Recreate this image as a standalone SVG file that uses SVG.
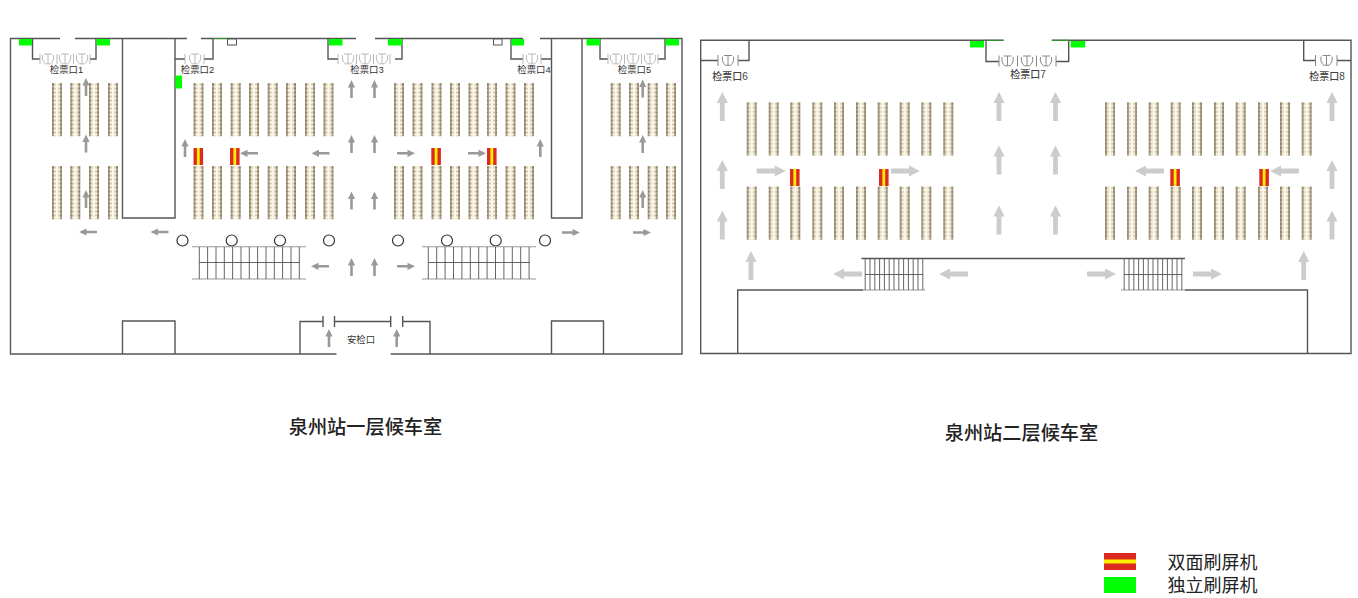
<svg xmlns="http://www.w3.org/2000/svg" xmlns:xlink="http://www.w3.org/1999/xlink" width="1358" height="598" viewBox="0 0 1358 598">
<style>
text{font-family:"Liberation Sans","Noto Sans CJK SC",sans-serif;text-anchor:middle;fill:#333}
.wall{fill:none;stroke:#555;stroke-width:1.4}
.stair{fill:none;stroke:#555;stroke-width:.9}
.stairedge{fill:none;stroke:#999;stroke-width:1.1}
.g{fill:#00ff00}
.gl{fill:none;stroke:#2a9a2a;stroke-width:1}
.box{fill:#fff;stroke:#555;stroke-width:1}
.c{fill:#fff;stroke:#333;stroke-width:1.2}
.gs{fill:none;stroke:#b0b0b0;stroke-width:.9}
.gd{fill:none;stroke:#888;stroke-width:1}
.l1{font-size:9.4px}
.l2{font-size:10px;fill:#444;font-weight:500}
.title{font-size:19.2px;font-weight:500;fill:#222}
.leg{font-size:18px;fill:#222}
.a1{fill:#999}
.a2{fill:#ccc}
</style>
<defs>
<pattern id="seat" width="10" height="4" patternUnits="userSpaceOnUse">
<rect width="10" height="4" fill="#fbf7ea"/>
<rect x="1" y=".5" width="8" height="2" fill="#d8ccb0"/>
<rect x="3" width="4" height="4" fill="#b3a78d"/>
<rect x="3.5" y=".5" width="3" height="2" fill="#84795f"/>
</pattern>
<rect id="col" x="-5" y="0" width="10" height="53.2" fill="url(#seat)"/>
<g id="row1">
<use href="#col" x="57"/><use href="#col" x="75.3"/><use href="#col" x="94"/><use href="#col" x="113"/>
<use href="#col" x="198.5"/><use href="#col" x="217"/><use href="#col" x="235.7"/><use href="#col" x="254"/><use href="#col" x="272.7"/><use href="#col" x="291"/><use href="#col" x="310"/><use href="#col" x="328.5"/>
<use href="#col" x="399"/><use href="#col" x="417.5"/><use href="#col" x="436.5"/><use href="#col" x="455"/><use href="#col" x="473.5"/><use href="#col" x="492"/><use href="#col" x="510.5"/><use href="#col" x="529"/>
<use href="#col" x="615.7"/><use href="#col" x="634"/><use href="#col" x="652.7"/><use href="#col" x="671"/>
</g>
<g id="row2">
<use href="#col" x="751.7"/><use href="#col" x="773.7"/><use href="#col" x="795.3"/><use href="#col" x="817.3"/><use href="#col" x="839"/><use href="#col" x="861"/><use href="#col" x="882.7"/><use href="#col" x="904.7"/><use href="#col" x="926.3"/><use href="#col" x="948.3"/>
<use href="#col" x="1110"/><use href="#col" x="1132"/><use href="#col" x="1153.7"/><use href="#col" x="1175.7"/><use href="#col" x="1197"/><use href="#col" x="1219"/><use href="#col" x="1240.7"/><use href="#col" x="1263"/><use href="#col" x="1285"/><use href="#col" x="1306.7"/>
</g>
<g id="rv"><rect width="9.6" height="17" fill="#dc2a20"/><rect x="3.4" width="2.8" height="17" fill="#fff000"/></g>
<g id="gate"><path d="M-4-5H4M0-5V4.5M-2.5 4.8H2.5M-5.5-4Q-6.5 2-2.5 4.8M5.5-4Q6.5 2 2.5 4.8"/></g>
<path id="as" d="M0 0L3.6 7.5H1.3V18H-1.3V7.5H-3.6Z"/>
<path id="al" d="M0 0L5.6 11H2.4V29H-2.4V11H-5.6Z"/>
</defs>

<g id="floor1-walls">
<path class="wall" d="M60 38.5H10.5V354H336.5M75 38.5H187M201 38.5H356M375 38.5H523M540 38.5H682V354H390.7"/>
<path class="wall" d="M122.5 38.5V218H175V38.5M551.5 38.5V218H582V38.5"/>
<path class="wall" d="M122.5 354V321H175V354M551.5 354V321H603.5V354"/>
<path class="wall" d="M300 354V321.5H323M334.5 321.5H390.7M402.7 321.5H430V354"/>
<path class="wall" d="M323 316V327M334.5 316V327M390.7 316V327M402.7 316V327"/>
<path class="wall" d="M32.5 38.5V59H40M96 38.5V59H90M175 59H185M204 59H213V38.5M328 38.5V59H338M402 38.5V59H395M511 38.5V59H523M541 59H551.5M600 38.5V59H608M665 38.5V59H658"/>
<path class="gl" d="M213 38.5H227"/>
</g>

<g id="floor1-seats">
<use href="#row1" y="83"/>
<use href="#row1" y="166"/>
</g>

<g id="gate1"><g class="gs"><use href="#gate" x="48" y="59"/><use href="#gate" x="65" y="59"/><use href="#gate" x="82" y="59"/><path d="M40 54V64M57 54V64M73.5 54V64M90 54V64"/></g><text class="l1" x="66.5" y="73">检票口1</text></g>
<g id="gate2"><g class="gs"><use href="#gate" x="195" y="59"/><path d="M185 54V64M204 54V64"/></g><text class="l1" x="197.5" y="73">检票口2</text></g>
<g id="gate3"><g class="gs"><use href="#gate" x="348" y="59"/><use href="#gate" x="365" y="59"/><use href="#gate" x="382" y="59"/><path d="M338 54V64M356.5 54V64M373.5 54V64M390 54V64"/></g><text class="l1" x="367" y="73">检票口3</text></g>
<g id="gate4"><g class="gs"><use href="#gate" x="532" y="59"/><path d="M523 54V64M541 54V64"/></g><text class="l1" x="534" y="73">检票口4</text></g>
<g id="gate5"><g class="gs"><use href="#gate" x="616" y="59"/><use href="#gate" x="633" y="59"/><use href="#gate" x="650" y="59"/><path d="M608 54V64M624.5 54V64M641.5 54V64M658 54V64"/></g><text class="l1" x="634.5" y="73">检票口5</text></g>

<g id="floor1-scanners">
<rect class="g" x="19" y="39" width="13" height="6.5"/><rect class="g" x="96.5" y="39" width="13.5" height="6.5"/><rect class="g" x="175.5" y="75.5" width="6.5" height="13"/><rect class="g" x="329" y="39" width="13.5" height="6.5"/><rect class="g" x="388" y="39" width="14" height="6.5"/><rect class="g" x="511.5" y="39" width="12.5" height="6.5"/><rect class="g" x="586.5" y="39" width="13.5" height="6.5"/><rect class="g" x="665.5" y="39" width="13.5" height="6.5"/>
<rect class="box" x="227.5" y="39" width="9" height="6"/><rect class="box" x="493.5" y="39" width="8.5" height="6"/>
<use href="#rv" x="193.5" y="148"/><use href="#rv" x="230" y="148"/><use href="#rv" x="431.3" y="148"/><use href="#rv" x="487" y="148"/>
</g>

<g id="floor1-pillars">
<circle class="c" cx="182.5" cy="240.5" r="5.5"/><circle class="c" cx="231.7" cy="240.5" r="5.5"/><circle class="c" cx="280" cy="240.5" r="5.5"/><circle class="c" cx="329" cy="240.5" r="5.5"/><circle class="c" cx="398" cy="240.5" r="5.5"/><circle class="c" cx="447" cy="240.5" r="5.5"/><circle class="c" cx="495.7" cy="240.5" r="5.5"/><circle class="c" cx="545" cy="240.5" r="5.5"/>
</g>

<g id="floor1-stairs">
<path class="stairedge" d="M192 246.8H306M192 279H306M422 246.8H536M422 279H536"/>
<path class="stair" d="M199 262.5H300M199.3 247V279M207.6 247V279M216 247V279M224.3 247V279M232.6 247V279M241 247V279M249.3 247V279M257.6 247V279M266 247V279M274.3 247V279M282.6 247V279M291 247V279M299.3 247V279"/>
<path class="stair" d="M428 262.5H530M428.3 247V279M436.7 247V279M445.1 247V279M453.5 247V279M461.9 247V279M470.3 247V279M478.7 247V279M487.1 247V279M495.5 247V279M503.9 247V279M512.3 247V279M520.7 247V279M529.1 247V279"/>
</g>

<text id="security" class="l1" x="361" y="342.5">安检口</text>

<g id="floor2-walls">
<path class="wall" d="M1003.7 40.3H700.7V353.5H1351V40.3H1051.7"/>
<path class="wall" d="M737.7 353.5V290H863M1185 290H1307.5V353.5"/>
<path class="wall" d="M861.5 258.5H1185"/>
<path class="wall" d="M700.7 60.5H718M738 60.5H749V40.3M986 40.3V61.5H999M1056 61.5H1068.7V40.3M1303.7 40.3V60.5H1315.5M1337 60.5H1351"/>
<path class="gl" d="M984 40.3H1003M1052 40.3H1069"/>
</g>

<g id="floor2-seats">
<use href="#row2" y="102.3"/>
<use href="#row2" y="186.5"/>
</g>

<g id="gate6"><g class="gd"><use href="#gate" x="728" y="60.5"/><path d="M718 55V66M738 55V66"/></g><text class="l2" x="730" y="80">检票口6</text></g>
<g id="gate7"><g class="gd"><use href="#gate" x="1007.5" y="61"/><use href="#gate" x="1027" y="61"/><use href="#gate" x="1046" y="61"/><path d="M999 55.5V66.5M1017.5 55.5V66.5M1036.5 55.5V66.5M1056 55.5V66.5"/></g><text class="l2" x="1028" y="78">检票口7</text></g>
<g id="gate8"><g class="gd"><use href="#gate" x="1326.5" y="60.5"/><path d="M1315.5 55V66M1337 55V66"/></g><text class="l2" x="1327" y="80">检票口8</text></g>

<g id="floor2-scanners">
<rect class="g" x="970" y="41" width="14" height="6.5"/><rect class="g" x="1070.7" y="41" width="14.5" height="6.5"/>
<use href="#rv" x="790" y="169"/><use href="#rv" x="879" y="169"/><use href="#rv" x="1170.3" y="169"/><use href="#rv" x="1259.3" y="169"/>
</g>

<g id="floor2-stairs">
<path class="stairedge" d="M863 290H925M1121 290H1185"/>
<path class="stair" d="M865 274.5H923M865.2 259V290M870 259V290M874.8 259V290M879.6 259V290M884.4 259V290M889.2 259V290M894 259V290M898.8 259V290M903.6 259V290M908.4 259V290M913.2 259V290M918 259V290M922.8 259V290"/>
<path class="stair" d="M1124 274.5H1182M1124.2 259V290M1129 259V290M1133.8 259V290M1138.6 259V290M1143.4 259V290M1148.2 259V290M1153 259V290M1157.8 259V290M1162.6 259V290M1167.4 259V290M1172.2 259V290M1177 259V290M1181.8 259V290"/>
</g>

<g id="connectors">
<g class="a1">
<use href="#as" x="86" y="78"/><use href="#as" x="86" y="134.5"/><use href="#as" x="86" y="190"/>
<use href="#as" x="642.7" y="79.5"/><use href="#as" x="642.7" y="135"/><use href="#as" x="642.7" y="190"/>
<use href="#as" x="185" y="139"/><use href="#as" x="540.3" y="139"/>
<use href="#as" x="351.5" y="80"/><use href="#as" x="374.5" y="80"/><use href="#as" x="351.5" y="135"/><use href="#as" x="374.5" y="135"/><use href="#as" x="351.5" y="191.5"/><use href="#as" x="374.5" y="191.5"/><use href="#as" x="351.5" y="258"/><use href="#as" x="374.5" y="258"/>
<use href="#as" x="329" y="329"/><use href="#as" x="396.7" y="329"/>
<use href="#as" transform="translate(240 153.3) rotate(-90)"/><use href="#as" transform="translate(311.5 153.3) rotate(-90)"/>
<use href="#as" transform="translate(415 153.3) rotate(90)"/><use href="#as" transform="translate(486 153.3) rotate(90)"/>
<use href="#as" transform="translate(79 232) rotate(-90)"/><use href="#as" transform="translate(150.5 232) rotate(-90)"/>
<use href="#as" transform="translate(580 232.5) rotate(90)"/><use href="#as" transform="translate(651 232.5) rotate(90)"/>
<use href="#as" transform="translate(311 266.3) rotate(-90)"/><use href="#as" transform="translate(415 266.3) rotate(90)"/>
</g>
<g class="a2">
<use href="#al" x="722.3" y="92"/><use href="#al" x="722.3" y="160"/><use href="#al" x="722.3" y="210.5"/><use href="#al" x="751" y="251"/>
<use href="#al" x="999" y="92"/><use href="#al" x="999" y="145.5"/><use href="#al" x="999" y="205.5"/>
<use href="#al" x="1055.5" y="92"/><use href="#al" x="1055.5" y="145.5"/><use href="#al" x="1055.5" y="205.5"/>
<use href="#al" x="1332" y="92"/><use href="#al" x="1332" y="160"/><use href="#al" x="1332" y="210.5"/><use href="#al" x="1303.7" y="251"/>
<use href="#al" transform="translate(785.7 171) rotate(90)"/><use href="#al" transform="translate(920 171) rotate(90)"/>
<use href="#al" transform="translate(1135 171) rotate(-90)"/><use href="#al" transform="translate(1270 171) rotate(-90)"/>
<use href="#al" transform="translate(833 274) rotate(-90)"/><use href="#al" transform="translate(939 274) rotate(-90)"/>
<use href="#al" transform="translate(1116 274) rotate(90)"/><use href="#al" transform="translate(1222 274) rotate(90)"/>
</g>
</g>

<g id="titles">
<text class="title" x="365.5" y="433.5">泉州站一层候车室</text>
<text class="title" x="1021.5" y="439.5">泉州站二层候车室</text>
</g>

<g id="legend">
<rect x="1104" y="553" width="32" height="17" fill="#dc2a20"/><rect x="1104" y="559.5" width="32" height="4" fill="#fff000"/>
<rect class="g" x="1104" y="577" width="32" height="16"/>
<text class="leg" x="1212.5" y="569">双面刷屏机</text>
<text class="leg" x="1212.5" y="592">独立刷屏机</text>
</g>
</svg>
